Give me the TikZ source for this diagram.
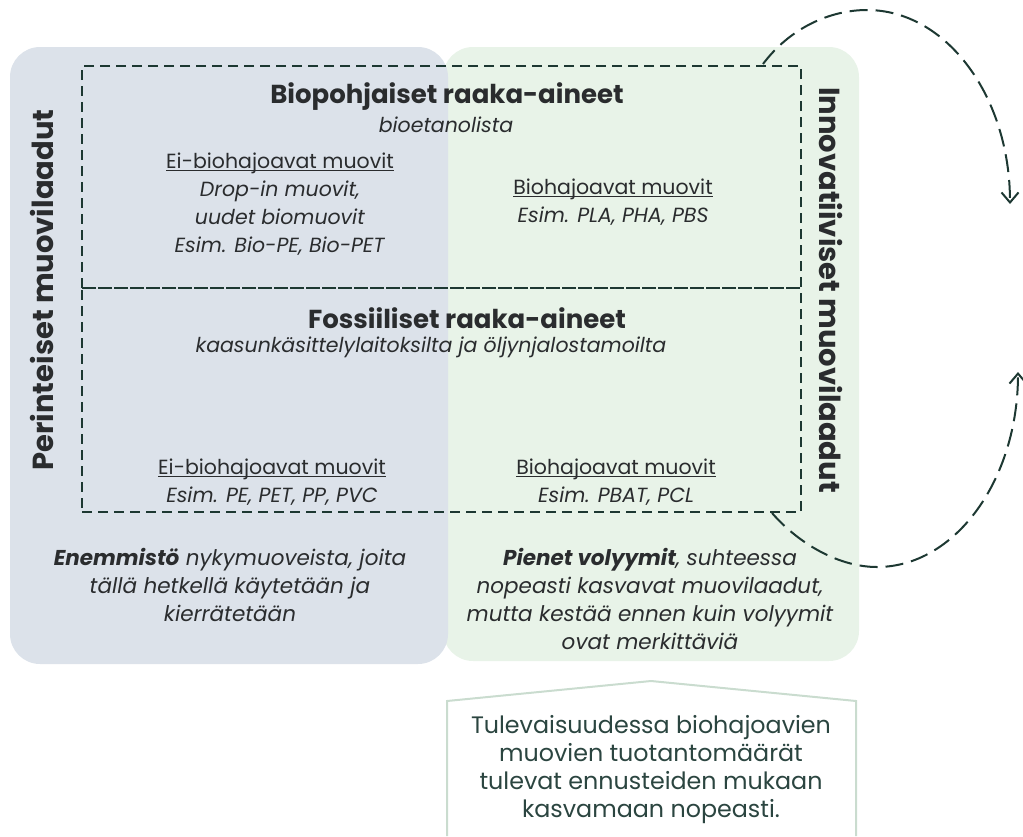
\documentclass[tikz,border=0pt]{standalone}
\usepackage{fontspec}
\setmainfont{Poppins}
\usetikzlibrary{arrows.meta}
\definecolor{bluebg}{HTML}{DCE2EA}
\definecolor{greenbg}{HTML}{E8F3E8}
\definecolor{ink}{HTML}{2A2C2E}
\definecolor{dashink}{HTML}{1D3832}
\definecolor{calloutline}{HTML}{CADCCF}
\definecolor{callouttext}{HTML}{2B4540}
% underline sitting just below the baseline, ignoring descenders
\newcommand\headline[1]{\underline{\smash{#1}}}
\tikzset{
  panel/.style={rounded corners=30pt},
  dashbox/.style={draw=dashink, line width=2pt, dash pattern=on 10pt off 6pt},
  cyclearrow/.style={draw=dashink, line width=2pt, dash pattern=on 18pt off 8pt,
    -{Straight Barb[length=10pt,width=17pt,line width=2pt]}},
  title/.style={font=\fontsize{26}{28}\selectfont\bfseries, text=ink},
  sidelabel/.style={font=\fontsize{29}{30}\selectfont\bfseries, text=ink},
  body/.style={font=\fontsize{20.5}{28}\selectfont, text=ink, align=center},
  note/.style={font=\fontsize{21.5}{28}\selectfont\itshape, text=ink, align=center},
  callout/.style={draw=calloutline, line width=2pt},
  callouttxt/.style={font=\fontsize{23.8}{28}\selectfont, text=callouttext, align=center}
}
\begin{document}
\begin{tikzpicture}[x=1pt, y=-1pt]
\useasboundingbox (0,0) rectangle (1023,836);

% two background panels, the conventional one lying over the innovative one
\fill[greenbg, panel] (443,47) rectangle (859,661);
\fill[bluebg, panel] (10,47) rectangle (448,664);

% dashed frames for the two raw-material groups
\node[dashbox, minimum width=719pt, minimum height=222pt, inner sep=0pt] (bio) at (441.5,177) {};
\node[dashbox, minimum width=719pt, minimum height=224pt, inner sep=0pt] (fossil) at (441.5,400) {};

% side labels
\node[sidelabel, rotate=90] (perint) at (42,290) {Perinteiset muovilaadut};
\node[sidelabel, rotate=-90] (innov) at (831,290) {Innovatiiviset muovilaadut};

% bio-based group
\node[title] (biotitle) at (447,97) {Biopohjaiset raaka-aineet};
\node[body, font=\fontsize{20.5}{28}\selectfont\itshape] (biosub) at (446,125) {bioetanolista};
\node[body] (bioleft) at (280,212) {\headline{Ei-biohajoavat muovit}\\
  \textit{Drop-in muovit,}\\ \textit{uudet biomuovit}\\ \textit{Esim. Bio-PE, Bio-PET}};
\node[body] (bioright) at (613,210) {\headline{Biohajoavat muovit}\\ \textit{Esim. PLA, PHA, PBS}};

% fossil group
\node[title] (fostitle) at (467,318) {Fossiiliset raaka-aineet};
\node[body, font=\fontsize{20.5}{28}\selectfont\itshape] (fossub) at (431,347) {kaasunkäsittelylaitoksilta ja öljynjalostamoilta};
\node[body] (fosleft) at (272,490) {\headline{Ei-biohajoavat muovit}\\ \textit{Esim. PE, PET, PP, PVC}};
\node[body] (fosright) at (616,490) {\headline{Biohajoavat muovit}\\ \textit{Esim. PBAT, PCL}};

% notes under the panels
\node[note] (leftnote) at (230,585) {\textbf{Enemmistö} nykymuoveista, joita\\ tällä hetkellä käytetään ja\\ kierrätetään};
\node[note] (rightnote) at (650,599) {\textbf{Pienet volyymit}, suhteessa\\ nopeasti kasvavat muovilaadut,\\ mutta kestää ennen kuin volyymit\\ ovat merkittäviä};

% cycle arrows between the groups
\coordinate (upS) at (763,64);
\coordinate (upE) at (1010,204);
\coordinate (loS) at (772,513);
\coordinate (loE) at (1018,372);
\draw[cyclearrow] (upS) .. controls (790,28) and (830,10) .. (867,10)
  .. controls (946,10) and (1010,96) .. (upE);
\draw[cyclearrow] (loS) .. controls (800,545) and (840,567) .. (877,567)
  .. controls (955,567) and (1018,480) .. (loE);

% callout
\draw[callout] (447,836) -- (447,701) -- (651,681) -- (856,701) -- (856,836);
\node[callouttxt] (future) at (651,770) {Tulevaisuudessa biohajoavien\\ muovien tuotantomäärät\\ tulevat ennusteiden mukaan\\ kasvamaan nopeasti.};
\end{tikzpicture}
\end{document}
